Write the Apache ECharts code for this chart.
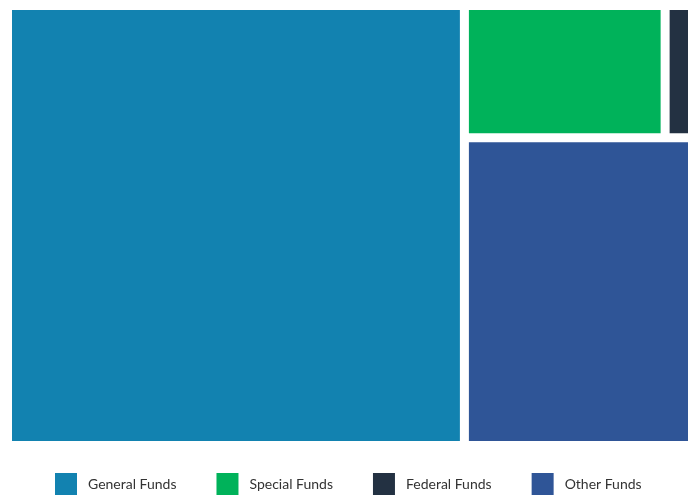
<!DOCTYPE html>
<html>
<head>
<meta charset="utf-8">
<script src="https://cdn.jsdelivr.net/npm/echarts@6/dist/echarts.min.js"></script>
<style>
  html, body { margin: 0; padding: 0; background: #fff; }
  #chart { width: 693px; height: 495px; }
</style>
</head>
<body>
<div id="chart"></div>
<script>
// Share of funding by source (percent of total)
const fundNames = ['General Funds', 'Special Funds', 'Federal Funds', 'Other Funds'];
const fundValues = [66.7, 8.8, 1.2, 23.3];
const fundColors = ['#1282b0', '#00b25a', '#233142', '#2f5597'];

function leaf(i) {
  return { name: fundNames[i], value: fundValues[i], itemStyle: { color: fundColors[i] } };
}

// Non-general sources are grouped so the right-hand column stacks
// special + federal above the other funds block.
const treeData = [
  leaf(0),
  {
    name: 'Non-general',
    children: [
      { name: 'Special and federal', children: [leaf(1), leaf(2)] },
      leaf(3)
    ]
  }
];

const gapLevel = { itemStyle: { gapWidth: 9, borderWidth: 0, borderColor: '#fff' } };

const chart = echarts.init(document.getElementById('chart'), null, { renderer: 'canvas' });

// Empty series that only feed the legend with one swatch per fund
const legendSeries = fundNames.map((name, i) => ({
  type: 'custom',
  name: name,
  coordinateSystem: 'none',
  data: [],
  itemStyle: { color: fundColors[i] },
  renderItem: () => null
}));

chart.setOption({
  animation: false,
  tooltip: { show: false },
  legend: {
    data: fundNames.map(n => ({ name: n, icon: 'rect' })),
    left: 55,
    top: 473,
    padding: 0,
    itemWidth: 22,
    itemHeight: 22,
    itemGap: 40,
    selectedMode: false,
    textStyle: {
      fontFamily: 'Lato',
      fontSize: 14,
      color: '#333',
      padding: [0, 0, 0, 6]
    }
  },
  series: [
    {
      type: 'treemap',
      left: 12,
      top: 10,
      width: 676,
      height: 431,
      sort: false,
      roam: false,
      nodeClick: false,
      breadcrumb: { show: false },
      label: { show: false },
      upperLabel: { show: false },
      itemStyle: { gapWidth: 9, borderWidth: 0, borderColor: '#fff' },
      levels: [gapLevel, gapLevel, gapLevel, gapLevel],
      data: treeData
    },
    ...legendSeries
  ]
});
</script>
</body>
</html>
